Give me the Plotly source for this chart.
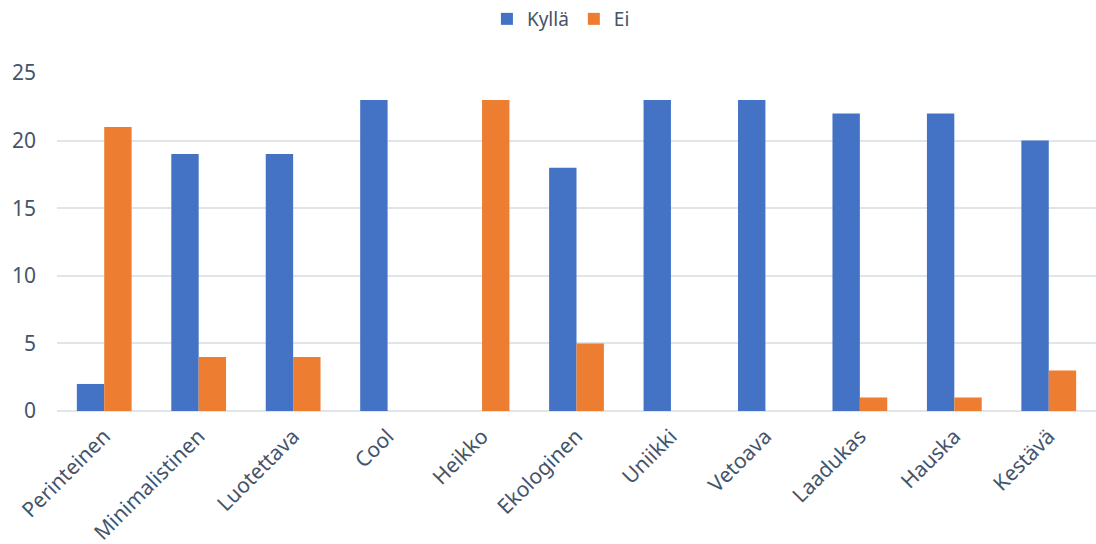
import plotly.graph_objects as go

categories = ["Perinteinen", "Minimalistinen", "Luotettava", "Cool", "Heikko", "Ekologinen",
              "Uniikki", "Vetoava", "Laadukas", "Hauska", "Kestävä"]
kylla = [2, 19, 19, 23, 0, 18, 23, 23, 22, 22, 20]
ei = [21, 4, 4, 0, 23, 5, 0, 0, 1, 1, 3]

font_color = "#44546A"
fig = go.Figure()
fig.add_trace(go.Bar(x=categories, y=kylla, name="Kyllä", marker=dict(color="#4472C4", line=dict(width=0))))
fig.add_trace(go.Bar(x=categories, y=ei, name="Ei", marker=dict(color="#ED7D31", line=dict(width=0))))

fig.update_layout(
    width=1096, height=544,
    margin=dict(l=57, r=0, t=73, b=133),
    paper_bgcolor="white", plot_bgcolor="white",
    barmode="group", bargap=0.42, bargroupgap=0,
    font=dict(family="Noto Sans, Open Sans, sans-serif", size=21, color=font_color),
    legend=dict(orientation="h", x=0.485, xanchor="center", y=1.0, yref="container", yanchor="top",
                font=dict(size=19, color=font_color), itemwidth=30, traceorder="normal"),
    xaxis=dict(tickangle=-45, showgrid=False, showline=False, ticks="", ticklabelstandoff=8,
               tickfont=dict(size=21, color=font_color)),
    yaxis=dict(range=[0, 25], dtick=5, showgrid=True, gridcolor="#E1E5EA", gridwidth=2,
               zeroline=True, zerolinecolor="#E1E5EA", zerolinewidth=2,
               ticks="", ticklabelstandoff=20, tickfont=dict(size=21, color=font_color)),
)
fig.write_html("out.html")
